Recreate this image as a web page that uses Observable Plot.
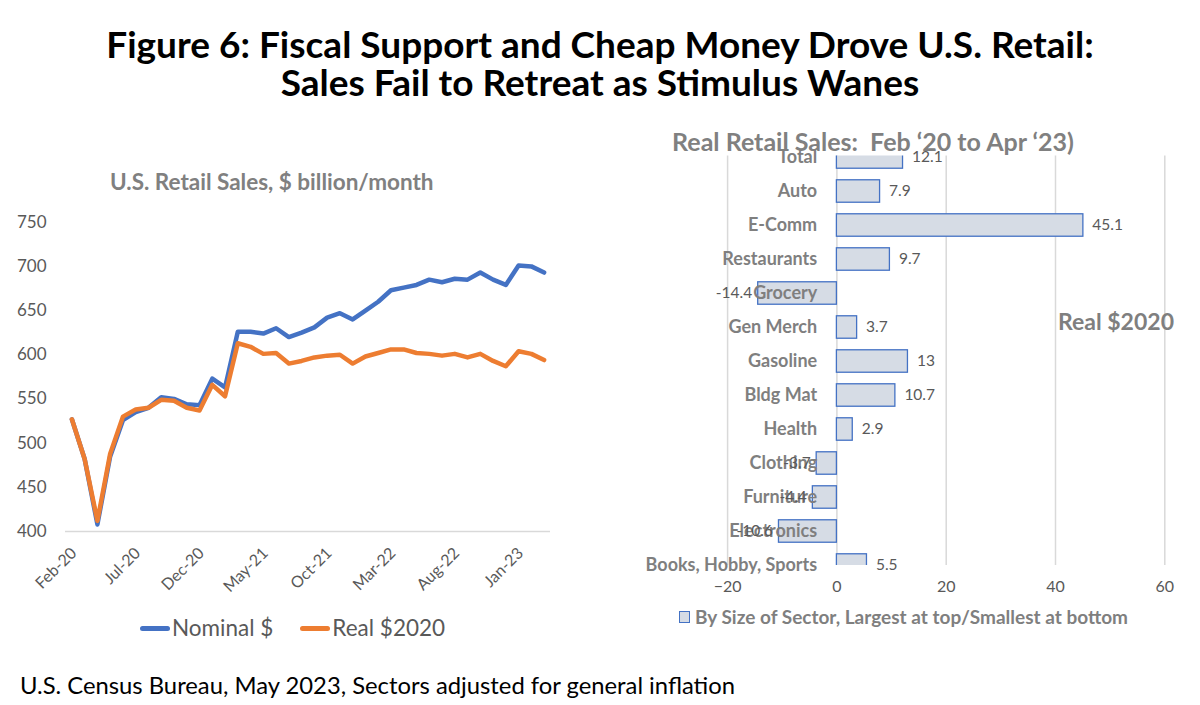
<!DOCTYPE html>
<html><head><meta charset="utf-8">
<script src="https://cdn.jsdelivr.net/npm/d3@7"></script>
<script src="https://cdn.jsdelivr.net/npm/@observablehq/plot@0.6"></script>
<style>
body{margin:0;background:#fff;font-family:Lato,"Open Sans",sans-serif;}
#root{position:relative;width:1200px;height:705px;overflow:hidden;background:#fff;}
.abs{position:absolute;white-space:nowrap;}
#title{left:0;width:1200px;top:25px;text-align:center;font-weight:700;font-size:37px;line-height:38px;color:#000;}
#lsub{left:110px;top:168px;font-weight:700;font-size:22.5px;line-height:28px;color:#808080;}
#rsub{left:623px;width:500px;text-align:center;top:126px;font-weight:700;font-size:25px;line-height:30px;color:#808080;}
#legend{left:140px;top:614px;font-size:22.5px;line-height:28px;color:#595959;display:flex;align-items:center;}
.sw{display:inline-block;width:30px;height:5px;border-radius:3px;margin-right:2px;}
#blegend{left:679px;top:605px;font-size:19px;line-height:24px;font-weight:700;color:#7f7f7f;display:flex;align-items:center;}
.sq{display:inline-block;width:9px;height:10px;background:#D6DCE5;border:1px solid #4472C4;margin-right:5px;}
#real{left:1058px;top:306px;font-size:23px;line-height:30px;font-weight:700;color:#7f7f7f;}
#foot{left:20px;top:670px;font-size:23.8px;line-height:30px;color:#000;}
#left{left:0;top:190px;}
#right{left:600px;top:100px;}
</style></head><body><div id="root">
<div id="title" class="abs">Figure 6: Fiscal Support and Cheap Money Drove U.S. Retail:<br>Sales Fail to Retreat as Stimulus Wanes</div>
<div id="left" class="abs"></div>
<div id="right" class="abs"></div>
<div id="lsub" class="abs">U.S. Retail Sales, $ billion/month</div>
<div id="rsub" class="abs">Real Retail Sales:&nbsp; Feb ‘20 to Apr ‘23)</div>
<div id="legend" class="abs"><span class="sw" style="background:#4472C4"></span>Nominal $<span style="display:inline-block;width:27px"></span><span class="sw" style="background:#ED7D31"></span>Real $2020</div>
<div id="blegend" class="abs"><span class="sq"></span>By Size of Sector, Largest at top/Smallest at bottom</div>
<div id="real" class="abs">Real $2020</div>
<div id="foot" class="abs">U.S. Census Bureau, May 2023, Sectors adjusted for general inflation</div>
</div>
<script>
const months = ["Feb-20","Mar-20","Apr-20","May-20","Jun-20","Jul-20","Aug-20","Sep-20","Oct-20","Nov-20","Dec-20",
  "Jan-21","Feb-21","Mar-21","Apr-21","May-21","Jun-21","Jul-21","Aug-21","Sep-21","Oct-21","Nov-21","Dec-21",
  "Jan-22","Feb-22","Mar-22","Apr-22","May-22","Jun-22","Jul-22","Aug-22","Sep-22","Oct-22","Nov-22","Dec-22",
  "Jan-23","Feb-23","Mar-23"];
const nominal = [527,482,408,485,526,535,540,552,550,544,543,573,563,626,626,624,630,620,625,631,642,647,640,650,660,673,676,679,685,682,686,685,693,685,679,701,700,693];
const real = [527,482,412,488,530,538,540,549,548,540,537,566,553,613,609,601,602,590,593,597,599,600,590,598,602,606,606,602,601,599,601,597,601,593,587,604,601,594];
const monthTicks = ["Feb-20","Jul-20","Dec-20","May-21","Oct-21","Mar-22","Aug-22","Jan-23"];
const salesTicks = [400,450,500,550,600,650,700,750];

const sectors = ["Total","Auto","E-Comm","Restaurants","Grocery","Gen Merch","Gasoline","Bldg Mat","Health","Clothing","Furniture","Electronics","Books, Hobby, Sports"];
const sectorChange = [12.1,7.9,45.1,9.7,-14.4,3.7,13,10.7,2.9,-3.7,-4.4,-10.6,5.5];
const changeTicks = [-20,0,20,40,60];

const nomData = months.map((m,i)=>({month:m, value:nominal[i]}));
const realData = months.map((m,i)=>({month:m, value:real[i]}));

const left = Plot.plot({
  width: 580, height: 420, marginLeft: 65, marginRight: 30, marginTop: 31.7, marginBottom: 79,
  style: {fontFamily: "Lato, sans-serif", color: "#595959", background: "transparent", overflow: "visible"},
  x: {type: "point", domain: months, padding: 0.5, round: false},
  y: {domain: [400, 750]},
  marks: [
    Plot.ruleY([400], {stroke: "#d9d9d9", strokeWidth: 1.5}),
    Plot.lineY(nomData, {x: "month", y: "value", stroke: "#4472C4", strokeWidth: 4.5, strokeLinejoin: "round", strokeLinecap: "round"}),
    Plot.lineY(realData, {x: "month", y: "value", stroke: "#ED7D31", strokeWidth: 4.5, strokeLinejoin: "round", strokeLinecap: "round"}),
    Plot.axisY(salesTicks, {tickSize: 0, tickPadding: 19, fontSize: 17, label: null}),
    Plot.axisX(monthTicks, {tickSize: 0, tickPadding: 19, tickRotate: -45, fontSize: 16, label: null, dx: 2})
  ]
});
document.getElementById("left").appendChild(left);

const sectorData = sectors.map((s,i)=>({sector:s, change:sectorChange[i]}));
const right = Plot.plot({
  width: 600, height: 540, marginLeft: 127.1, marginRight: 35.7, marginTop: 55.5, marginBottom: 75,
  style: {fontFamily: "Lato, sans-serif", color: "#595959", background: "transparent", overflow: "visible"},
  x: {domain: [-20, 60]},
  y: {type: "band", domain: sectors, range: [40, 482], paddingInner: 0.34, paddingOuter: 0.17, round: false},
  marks: [
    Plot.gridX(changeTicks, {stroke: "#d9d9d9", strokeOpacity: 1, strokeWidth: 1.5}),
    Plot.barX(sectorData, {x: "change", y: "sector", fill: "#D6DCE5", stroke: "#4472C4", strokeWidth: 1.3, clip: true}),
    Plot.axisX(changeTicks, {tickSize: 0, tickPadding: 15, fontSize: 16, label: null}),
    Plot.axisY({tickSize: 0, tickPadding: 0, dx: 89.6, fontSize: 18, fontWeight: "bold", fill: "#7f7f7f", label: null}),
    Plot.text(sectorData.filter(d=>d.change>=0), {x: "change", y: "sector", text: d=>String(d.change), textAnchor: "start", dx: 9, fontSize: 15.5, fill: "#595959"}),
    Plot.text(sectorData.filter(d=>d.change<0), {x: "change", y: "sector", text: d=>String(d.change), textAnchor: "end", dx: -6, fontSize: 15.5, fill: "#595959"})
  ]
});
document.getElementById("right").appendChild(right);
</script>
</body></html>
